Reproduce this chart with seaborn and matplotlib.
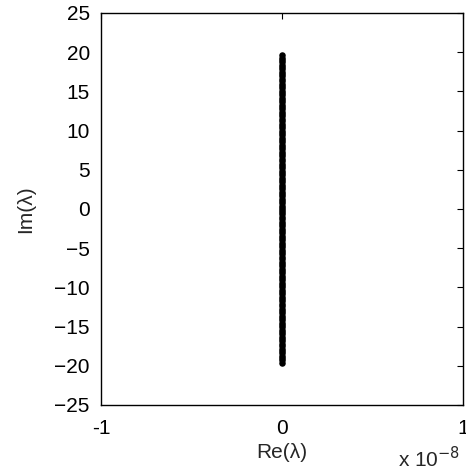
import matplotlib
matplotlib.use('Agg')
import matplotlib.pyplot as plt
import seaborn as sns
import pandas as pnd

# imaginary parts of the eigenvalues
im_neg = [-19.6, -19.3, -19.0, -18.7, -18.4, -18.1, -17.8, -17.5, -17.2, -16.9,
          -16.6, -16.3, -16.0, -15.7, -15.4, -15.1, -14.8, -14.5, -14.2, -13.9,
          -13.6, -13.3, -13.0, -12.7, -12.4, -12.1, -11.8, -11.5, -11.2, -10.9,
          -10.6, -10.3, -10.0, -9.7, -9.4, -9.1, -8.8, -8.5, -8.2, -7.9,
          -7.6, -7.3, -7.0, -6.7, -6.4, -6.1, -5.8, -5.5, -5.2, -4.9,
          -4.6, -4.3, -4.0, -3.7, -3.4, -3.1, -2.8, -2.5, -2.2, -1.9,
          -1.6, -1.3, -1.0, -0.7, -0.4, -0.1]
im_pos = [0.1, 0.4, 0.7, 1.0, 1.3, 1.6, 1.9, 2.2, 2.5, 2.8,
          3.1, 3.4, 3.7, 4.0, 4.3, 4.6, 4.9, 5.2, 5.5, 5.8,
          6.1, 6.4, 6.7, 7.0, 7.3, 7.6, 7.9, 8.2, 8.5, 8.8,
          9.1, 9.4, 9.7, 10.0, 10.3, 10.6, 10.9, 11.2, 11.5, 11.8,
          12.1, 12.4, 12.7, 13.0, 13.3, 13.6, 13.9, 14.2, 14.5, 14.8,
          15.1, 15.4, 15.7, 16.0, 16.3, 16.6, 16.9, 17.2, 17.5, 17.8,
          18.1, 18.4, 18.7, 19.0, 19.3, 19.6]
im_vals = im_neg + im_pos
# real parts, in units of 1e-8
re_vals = [0.0] * len(im_vals)

x_ticks = [-1, 0, 1]
y_ticks = [-25, -20, -15, -10, -5, 0, 5, 10, 15, 20, 25]

sns.set_style('white')
plt.rcParams['font.family'] = ['Liberation Sans', 'DejaVu Sans']

df = pnd.DataFrame({'re': re_vals, 'im': im_vals})

fig = plt.figure(figsize=(4.66, 4.72), dpi=100)
ax = fig.add_axes([0.2167, 0.142, 0.7769, 0.8305])

sns.scatterplot(data=df, x='re', y='im', ax=ax, color='black', s=22,
                linewidth=0, marker='o', legend=False)

ax.set_xlim(-1, 1)
ax.set_ylim(-25, 25)
ax.set_xticks(x_ticks)
ax.set_yticks(y_ticks)
ax.set_xticklabels([str(v) for v in x_ticks])
ax.tick_params(direction='in', top=True, right=True, length=4, width=0.8,
               labelsize=15, colors='black')
ax.tick_params(axis='x', pad=10)
ax.tick_params(axis='y', pad=8)
for sp in ax.spines.values():
    sp.set_visible(True)
    sp.set_color('black')
    sp.set_linewidth(1.0)

ax.set_xlabel('Re(λ)', fontsize=15, labelpad=4)
ax.set_ylabel('Im(λ)', fontsize=15, labelpad=14)
fig.text(0.855, 0.002, r'x 10$^{-8}$', fontsize=15, ha='left', va='bottom')

fig.savefig('out.png', dpi=100)
